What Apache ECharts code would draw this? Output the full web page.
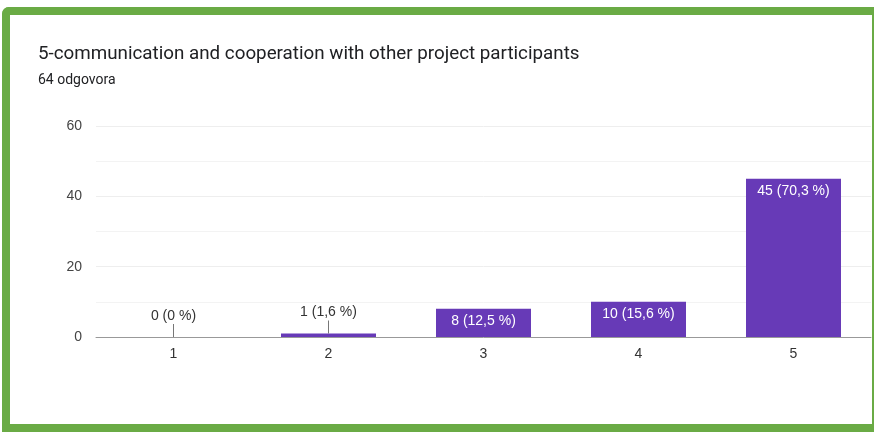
<!DOCTYPE html>
<html>
<head>
<meta charset="utf-8">
<script src="https://cdn.jsdelivr.net/npm/echarts@6/dist/echarts.min.js"></script>
<style>
html,body{margin:0;padding:0;background:#fff;}
#chart{width:874px;height:432px;}
</style>
</head>
<body>
<div id="chart"></div>
<script>
var titleText = '5-communication and cooperation with other project participants';
var subtitleText = '64 odgovora';
var categories = ['1', '2', '3', '4', '5'];
var values = [0, 1, 8, 10, 45];
var percents = ['0', '1,6', '12,5', '15,6', '70,3'];
var yTicks = [0, 20, 40, 60];

var insideThreshold = 5;
var barColor = '#673ab7';
var frameColor = '#6aab45';
var labelFont = 'Liberation Sans, Arial, sans-serif';

var seriesData = values.map(function (v, i) {
  var txt = v + ' (' + percents[i] + ' %)';
  if (v >= insideThreshold) {
    return {
      value: v,
      label: {
        show: true, position: 'insideTop', distance: 5,
        color: '#ffffff', fontSize: 14, fontFamily: labelFont,
        formatter: txt
      }
    };
  }
  return {
    value: v,
    label: {
      show: true, position: 'top', distance: 0,
      formatter: '{t|' + txt + '}\n{l|}',
      rich: {
        t: { color: '#333333', fontSize: 14, fontFamily: labelFont, lineHeight: 16, align: 'center' },
        l: { width: 1, height: 13, backgroundColor: '#777777', align: 'center', lineHeight: 13 }
      }
    }
  };
});

var chart = echarts.init(document.getElementById('chart'));
chart.setOption({
  backgroundColor: '#ffffff',
  animation: false,
  title: {
    text: titleText,
    subtext: subtitleText,
    left: 38, top: 45, padding: 0, itemGap: 9,
    textStyle: { fontFamily: 'Roboto, sans-serif', fontSize: 18.8, fontWeight: 'normal', color: '#202124' },
    subtextStyle: { fontFamily: 'Roboto, sans-serif', fontSize: 14, color: '#202124' }
  },
  grid: { left: 96, right: 3, top: 126, bottom: 95, containLabel: false },
  xAxis: {
    type: 'category',
    data: categories,
    axisLine: { show: true, lineStyle: { color: '#999999', width: 1 } },
    axisTick: { show: false },
    axisLabel: { color: '#333333', fontSize: 14, fontFamily: labelFont, margin: 10 }
  },
  yAxis: {
    type: 'value',
    min: yTicks[0], max: yTicks[yTicks.length - 1], interval: 20,
    axisLine: { show: false },
    axisTick: { show: false },
    axisLabel: { color: '#444444', fontSize: 14, fontFamily: labelFont, margin: 14 },
    splitLine: { show: true, lineStyle: { color: '#eeeeee', width: 1 } },
    minorTick: { show: false, splitNumber: 2 },
    minorSplitLine: { show: true, lineStyle: { color: '#f3f3f3', width: 1 } }
  },
  series: [{
    type: 'bar',
    data: seriesData,
    barWidth: 95,
    itemStyle: { color: barColor },
    z: 3
  }],
  graphic: [
    { type: 'rect', shape: { x: 2, y: 7, width: 872, height: 8, r: [7, 0, 0, 0] }, style: { fill: frameColor }, z: 100 },
    { type: 'rect', shape: { x: 2, y: 7, width: 8, height: 425, r: [7, 0, 0, 0] }, style: { fill: frameColor }, z: 100 },
    { type: 'rect', shape: { x: 2, y: 424, width: 872, height: 8 }, style: { fill: frameColor }, z: 100 },
    { type: 'rect', shape: { x: 872, y: 7, width: 2, height: 425 }, style: { fill: frameColor }, z: 100 }
  ]
});
</script>
</body>
</html>
